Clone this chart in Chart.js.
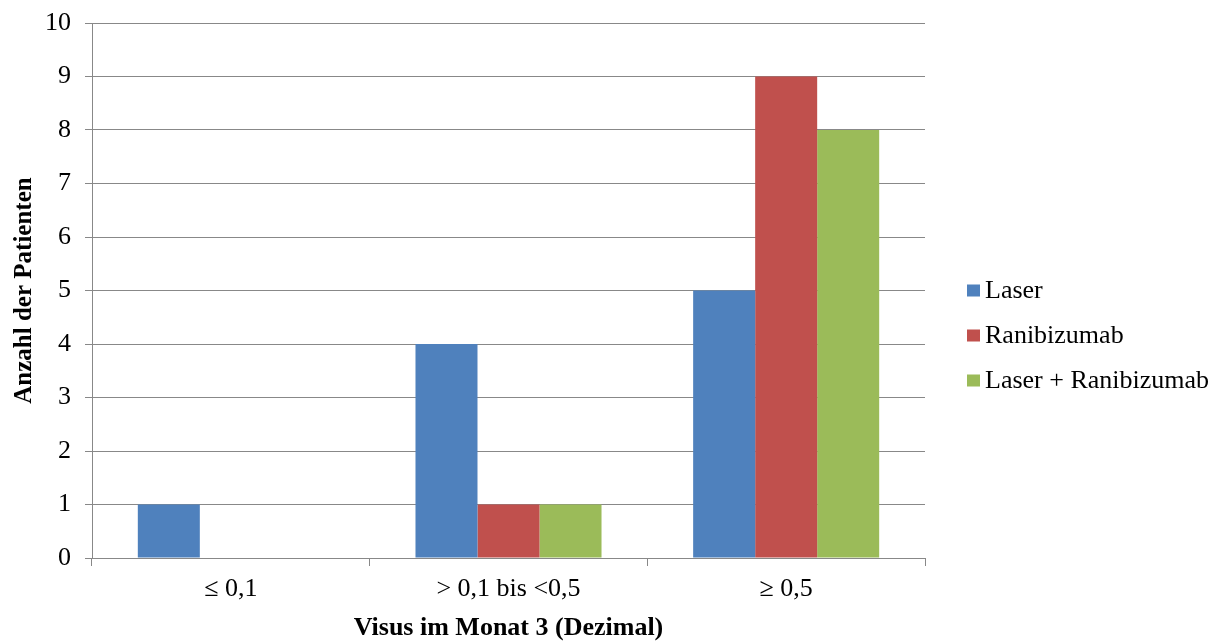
<!DOCTYPE html>
<html>
<head>
<meta charset="utf-8">
<script src="https://cdn.jsdelivr.net/npm/chart.js@4.4.1/dist/chart.umd.min.js"></script>
<style>
  html, body { margin: 0; padding: 0; background: #ffffff; }
  #wrap { width: 1222px; height: 644px; position: relative; }
</style>
</head>
<body>
<div id="wrap"><canvas id="c" width="1222" height="644"></canvas></div>
<script>
// Visual acuity groups at month 3 and patient counts per treatment arm
const categories = ['\u2264 0,1', '> 0,1 bis <0,5', '\u2265 0,5'];
const seriesNames = ['Laser', 'Ranibizumab', 'Laser + Ranibizumab'];
const laserCounts = [1, 4, 5];
const ranibizumabCounts = [0, 1, 9];
const combinedCounts = [0, 1, 8];
const seriesColors = ['#4F81BD', '#C0504D', '#9BBB59'];
const yTicks = [0, 1, 2, 3, 4, 5, 6, 7, 8, 9, 10];

const FONT = "'Liberation Serif', 'Times New Roman', serif";
const GRID = '#888888';

// Legend drawn beside the plot area from the dataset labels and colours
const sideLegend = {
  id: 'sideLegend',
  afterDraw(chart) {
    const ctx = chart.ctx;
    const x = 967, y0 = 290.5, step = 45;
    ctx.save();
    ctx.font = '26px ' + FONT;
    ctx.textBaseline = 'middle';
    ctx.textAlign = 'left';
    chart.data.datasets.forEach((ds, i) => {
      const y = y0 + i * step;
      ctx.fillStyle = ds.backgroundColor;
      ctx.fillRect(x, y - 6, 13, 12);
      ctx.fillStyle = '#000000';
      ctx.fillText(ds.label, x + 18, y + 1);
    });
    ctx.restore();
  }
};

new Chart(document.getElementById('c'), {
  type: 'bar',
  data: {
    labels: categories,
    datasets: [
      { label: seriesNames[0], data: laserCounts, backgroundColor: seriesColors[0] },
      { label: seriesNames[1], data: ranibizumabCounts, backgroundColor: seriesColors[1] },
      { label: seriesNames[2], data: combinedCounts, backgroundColor: seriesColors[2] }
    ]
  },
  options: {
    responsive: false,
    animation: false,
    devicePixelRatio: 1,
    layout: { padding: { top: 23, right: 297, bottom: 0, left: 0 } },
    datasets: { bar: { categoryPercentage: 0.67, barPercentage: 1.0, borderWidth: 0 } },
    plugins: {
      legend: { display: false },
      tooltip: { enabled: false }
    },
    scales: {
      x: {
        grid: { display: true, drawOnChartArea: false, drawTicks: true, tickLength: 8, color: GRID, lineWidth: 1 },
        border: { display: true, color: GRID, width: 1 },
        ticks: { color: '#000000', font: { family: FONT, size: 26 }, padding: 8, maxRotation: 0 },
        title: {
          display: true,
          text: 'Visus im Monat 3 (Dezimal)',
          color: '#000000',
          font: { family: FONT, size: 26, weight: 'bold' },
          padding: { top: 0, bottom: 0 }
        },
        afterFit(scale) {
          scale.height = 86;
          scale.paddingLeft = 0;
          scale.paddingRight = 0;
        }
      },
      y: {
        min: 0,
        max: 10,
        afterBuildTicks(scale) { scale.ticks = yTicks.map(v => ({ value: v })); },
        grid: { color: GRID, lineWidth: 1, drawTicks: true, tickLength: 7 },
        border: { display: true, color: GRID, width: 1 },
        ticks: { color: '#000000', font: { family: FONT, size: 26 }, padding: 14 },
        title: {
          display: true,
          text: 'Anzahl der Patienten',
          color: '#000000',
          font: { family: FONT, size: 25, weight: 'bold' },
          padding: { top: 10, bottom: 0 }
        },
        afterFit(scale) {
          scale.width = 92;
          scale.paddingTop = 0;
          scale.paddingBottom = 0;
        }
      }
    }
  },
  plugins: [sideLegend]
});
</script>
</body>
</html>
